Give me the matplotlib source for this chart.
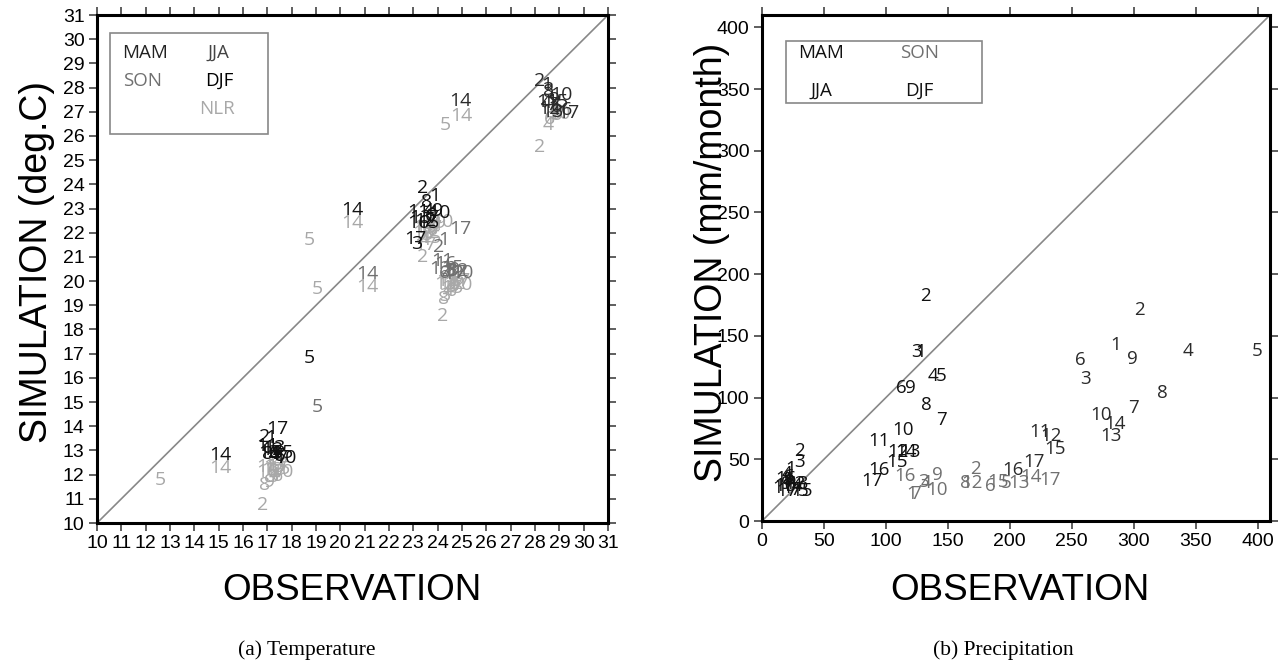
import matplotlib
matplotlib.use("Agg")
import matplotlib.pyplot as plt

# ---------------- Temperature panel data (station id, observation, simulation) ----------------
T_DJF_ID = [1, 2, 3, 4, 6, 7, 8, 9, 10, 11, 12, 13, 14, 15, 16, 17]
T_DJF_OBS = [17.15, 16.9, 17.2, 17.3, 17.5, 17.6, 17.0, 17.4, 17.75, 17.0, 17.2, 17.3, 15.06, 17.6, 17.1, 17.4]
T_DJF_SIM = [13.5, 13.55, 12.9, 12.8, 12.75, 12.7, 12.85, 12.85, 12.7, 13.2, 13.0, 13.1, 12.81, 12.9, 12.9, 13.87]

T_DJF_NLR_ID = [1, 2, 3, 4, 5, 6, 7, 8, 9, 10, 11, 12, 13, 14, 15, 16, 17]
T_DJF_NLR_OBS = [17.1, 16.8, 17.2, 17.3, 12.59, 17.4, 17.5, 16.9, 17.1, 17.6, 17.0, 17.2, 17.3, 15.06, 17.5, 17.0, 17.4]
T_DJF_NLR_SIM = [12.2, 10.74, 11.9, 12.0, 11.78, 11.95, 12.1, 11.57, 11.7, 12.1, 12.3, 12.2, 12.3, 12.26, 12.25, 12.1, 12.35]

T_MAM_ID = [1, 2, 3, 4, 5, 6, 7, 8, 9, 10, 11, 12, 13, 14, 15, 16, 17]
T_MAM_OBS = [23.89, 23.39, 23.15, 23.6, 18.73, 23.7, 23.8, 23.55, 24.0, 24.05, 23.2, 23.5, 23.3, 20.51, 23.6, 23.2, 23.07]
T_MAM_SIM = [23.52, 23.84, 21.55, 22.9, 16.81, 22.7, 22.6, 23.28, 22.9, 22.8, 22.85, 22.5, 22.6, 22.94, 22.4, 22.4, 21.72]

T_MAM_NLR_ID = [1, 2, 3, 4, 5, 6, 7, 8, 9, 10, 11, 12, 13, 14, 15, 16, 17]
T_MAM_NLR_OBS = [24.0, 23.39, 23.55, 23.5, 18.73, 23.8, 23.9, 23.7, 24.1, 24.2, 23.4, 23.6, 23.5, 20.51, 23.7, 23.4, 23.5]
T_MAM_NLR_SIM = [22.3, 21.01, 21.9, 21.7, 21.70, 22.1, 22.2, 22.3, 22.4, 22.45, 22.2, 22.0, 22.2, 22.41, 21.8, 22.0, 21.5]

T_SON_ID = [1, 2, 3, 4, 5, 6, 7, 8, 9, 10, 11, 12, 13, 14, 15, 16, 17]
T_SON_OBS = [24.23, 24.03, 24.5, 24.4, 19.07, 24.3, 24.9, 24.6, 24.7, 25.0, 24.2, 24.8, 24.1, 21.11, 24.6, 24.3, 24.92]
T_SON_SIM = [21.70, 21.40, 20.4, 20.3, 14.78, 20.35, 20.35, 20.4, 20.45, 20.32, 20.85, 20.4, 20.5, 20.29, 20.55, 20.7, 22.14]

T_SON_NLR_ID = [1, 2, 3, 4, 5, 6, 7, 8, 9, 10, 11, 12, 13, 14, 15, 16, 17]
T_SON_NLR_OBS = [24.6, 24.21, 24.3, 24.44, 19.07, 24.55, 24.8, 24.23, 24.7, 24.99, 24.4, 24.7, 24.3, 21.11, 24.6, 24.5, 24.9]
T_SON_NLR_SIM = [19.9, 18.56, 19.4, 19.63, 19.66, 19.6, 19.8, 19.25, 19.8, 19.84, 20.0, 19.9, 19.9, 19.77, 19.7, 19.9, 20.0]

T_JJA_ID = [1, 2, 3, 4, 6, 7, 8, 9, 10, 11, 12, 13, 14, 15, 16, 17]
T_JJA_OBS = [28.5, 28.18, 28.5, 28.48, 28.9, 28.7, 28.55, 28.8, 29.1, 28.5, 28.6, 28.7, 24.92, 28.9, 29.1, 29.36]
T_JJA_SIM = [28.1, 28.28, 27.9, 27.35, 27.2, 27.3, 27.8, 27.5, 27.7, 27.4, 27.1, 27.0, 27.45, 27.4, 27.07, 26.95]

T_JJA_NLR_ID = [1, 2, 3, 4, 5, 6, 8, 10, 14]
T_JJA_NLR_OBS = [28.7, 28.18, 28.8, 28.55, 24.30, 28.6, 28.9, 29.0, 24.96]
T_JJA_NLR_SIM = [26.8, 25.53, 26.9, 26.45, 26.45, 26.7, 26.85, 26.9, 26.83]

T_TICKS = list(range(10, 32))

# ---------------- Precipitation panel data ----------------
P_MAM_ID = [1, 2, 3, 4, 5, 6, 7, 8, 9, 10, 11, 12, 13, 14, 15, 16, 17]
P_MAM_OBS = [128.2, 132.3, 124.7, 138.2, 144.9, 112.6, 144.9, 132.3, 119.9, 114.0, 94.6, 110.0, 119.4, 116.0, 109.1, 94.6, 89.2]
P_MAM_SIM = [136.9, 182.7, 136.9, 117.2, 117.2, 108.1, 82.2, 94.3, 108.1, 74.1, 64.7, 56.0, 56.0, 56.0, 47.9, 41.2, 32.6]

P_JJA_ID = [1, 2, 3, 4, 5, 6, 7, 8, 9, 10, 11, 12, 13, 14, 15, 16, 17]
P_JJA_OBS = [285.5, 304.3, 261.3, 343.8, 400.0, 257.0, 299.5, 323.1, 298.9, 273.9, 224.2, 233.6, 282.0, 284.7, 236.3, 202.7, 219.4]
P_JJA_SIM = [142.3, 170.6, 115.4, 137.4, 137.4, 130.7, 91.9, 103.7, 131.5, 85.7, 72.2, 69.0, 68.7, 78.2, 58.0, 41.2, 47.9]

P_SON_ID = [16, 3, 4, 9, 10, 1, 7, 8, 12, 2, 6, 15, 5, 13, 14, 17]
P_SON_OBS = [115.3, 130.1, 132.3, 141.4, 141.4, 120.5, 123.5, 164.5, 169.5, 172.3, 183.9, 190.6, 197.3, 207.5, 217.5, 232.3]
P_SON_SIM = [36.4, 31.8, 31.0, 37.2, 25.1, 21.8, 21.8, 31.0, 30.5, 41.8, 28.3, 31.8, 30.5, 31.0, 35.3, 33.1]

P_DJF_ID = [2, 3, 1, 4, 6, 8, 9, 10, 11, 12, 13, 14, 15, 16, 17, 7, 5]
P_DJF_OBS = [30, 30, 23, 20, 22, 21, 20, 19, 17, 27, 29, 24, 32, 19, 20, 27, 33]
P_DJF_SIM = [57, 48, 42, 38, 36, 33, 30, 28, 27, 30, 30, 28, 24, 34, 24, 25, 24]

P_TICKS = list(range(0, 401, 50))

# ---------------- styling ----------------
C_BLACK = "#111111"
C_DARK = "#2a2a2a"
C_GRAY = "#707070"
C_LIGHT = "#a8a8a8"
LABEL_FONT = ["Open Sans", "DejaVu Sans"]
AXIS_FONT = ["Liberation Sans", "DejaVu Sans"]

fig = plt.figure(figsize=(12.79, 6.68), dpi=100)

def style_axes(ax, ticks, tick_fs):
    for s in ax.spines.values():
        s.set_linewidth(2.2)
        s.set_color("black")
    ax.set_xticks(ticks)
    ax.set_yticks(ticks)
    ax.tick_params(direction="out", length=6, width=1.1, top=True, right=True,
                   labeltop=False, labelright=False, labelsize=tick_fs, pad=3,
                   color="#333333")
    for lab in ax.get_xticklabels() + ax.get_yticklabels():
        lab.set_fontfamily(AXIS_FONT)

def put_labels(ax, ids, xs, ys, color, fs):
    for i, x, y in zip(ids, xs, ys):
        ax.text(x, y, str(i), color=color, fontsize=fs, ha="center", va="center",
                family=LABEL_FONT)

# ---------------- left panel ----------------
axL = fig.add_axes([97 / 1279, 1 - 523 / 668, (608 - 97) / 1279, (523 - 15) / 668])
axL.set_xlim(10, 31)
axL.set_ylim(10, 31)
axL.plot([10, 31], [10, 31], color="#888888", lw=1.2, zorder=1)
style_axes(axL, T_TICKS, 14)

fs_l = 14
put_labels(axL, T_DJF_NLR_ID, T_DJF_NLR_OBS, T_DJF_NLR_SIM, C_LIGHT, fs_l)
put_labels(axL, T_MAM_NLR_ID, T_MAM_NLR_OBS, T_MAM_NLR_SIM, C_LIGHT, fs_l)
put_labels(axL, T_SON_NLR_ID, T_SON_NLR_OBS, T_SON_NLR_SIM, C_LIGHT, fs_l)
put_labels(axL, T_JJA_NLR_ID, T_JJA_NLR_OBS, T_JJA_NLR_SIM, C_LIGHT, fs_l)
put_labels(axL, T_SON_ID, T_SON_OBS, T_SON_SIM, C_GRAY, fs_l)
put_labels(axL, T_JJA_ID, T_JJA_OBS, T_JJA_SIM, C_DARK, fs_l)
put_labels(axL, T_MAM_ID, T_MAM_OBS, T_MAM_SIM, C_BLACK, fs_l)
put_labels(axL, T_DJF_ID, T_DJF_OBS, T_DJF_SIM, C_BLACK, fs_l)

# legend box (left)
axL.add_patch(plt.Rectangle((0.025, 0.765), 0.31, 0.2, transform=axL.transAxes,
                            fill=False, edgecolor="#888888", lw=1.2))
leg_fs = 13.5
axL.text(0.094, 0.925, "MAM", transform=axL.transAxes, color="#222222", fontsize=leg_fs,
         ha="center", va="center", family=LABEL_FONT)
axL.text(0.238, 0.925, "JJA", transform=axL.transAxes, color="#444444", fontsize=leg_fs,
         ha="center", va="center", family=LABEL_FONT)
axL.text(0.09, 0.87, "SON", transform=axL.transAxes, color=C_GRAY, fontsize=leg_fs,
         ha="center", va="center", family=LABEL_FONT)
axL.text(0.24, 0.87, "DJF", transform=axL.transAxes, color="black", fontsize=leg_fs,
         ha="center", va="center", family=LABEL_FONT)
axL.text(0.235, 0.815, "NLR", transform=axL.transAxes, color=C_LIGHT, fontsize=leg_fs,
         ha="center", va="center", family=LABEL_FONT)

# ---------------- right panel ----------------
axR = fig.add_axes([762 / 1279, 1 - 521 / 668, (1270 - 762) / 1279, (521 - 15) / 668])
axR.set_xlim(0, 410)
axR.set_ylim(0, 410)
axR.plot([0, 410], [0, 410], color="#888888", lw=1.2, zorder=1)
style_axes(axR, P_TICKS, 14)

fs_r = 13.5
put_labels(axR, P_SON_ID, P_SON_OBS, P_SON_SIM, C_GRAY, fs_r)
put_labels(axR, P_JJA_ID, P_JJA_OBS, P_JJA_SIM, C_DARK, fs_r)
put_labels(axR, P_MAM_ID, P_MAM_OBS, P_MAM_SIM, C_BLACK, fs_r)
put_labels(axR, P_DJF_ID, P_DJF_OBS, P_DJF_SIM, C_BLACK, fs_r)

axR.add_patch(plt.Rectangle((0.047, 0.827), 0.386, 0.122, transform=axR.transAxes,
                            fill=False, edgecolor="#888888", lw=1.2))
axR.text(0.116, 0.925, "MAM", transform=axR.transAxes, color="#111111", fontsize=leg_fs,
         ha="center", va="center", family=LABEL_FONT)
axR.text(0.31, 0.925, "SON", transform=axR.transAxes, color=C_GRAY, fontsize=leg_fs,
         ha="center", va="center", family=LABEL_FONT)
axR.text(0.117, 0.85, "JJA", transform=axR.transAxes, color="#111111", fontsize=leg_fs,
         ha="center", va="center", family=LABEL_FONT)
axR.text(0.31, 0.85, "DJF", transform=axR.transAxes, color="#111111", fontsize=leg_fs,
         ha="center", va="center", family=LABEL_FONT)

# ---------------- axis titles and captions ----------------
fig.text(37 / 1279, 1 - 262 / 668, "SIMULATION (deg.C)", rotation=90, ha="center", va="center",
         fontsize=27, family=AXIS_FONT)
fig.text(712 / 1279, 1 - 262 / 668, "SIMULATION (mm/month)", rotation=90, ha="center", va="center",
         fontsize=27, family=AXIS_FONT)
fig.text(352 / 1279, 1 - 590 / 668, "OBSERVATION", ha="center", va="center",
         fontsize=26.5, family=AXIS_FONT)
fig.text(1020 / 1279, 1 - 590 / 668, "OBSERVATION", ha="center", va="center",
         fontsize=26.5, family=AXIS_FONT)
fig.text(307 / 1279, 1 - 650 / 668, "(a) Temperature", ha="center", va="center",
         fontsize=15.5, family=["Liberation Serif", "DejaVu Serif"])
fig.text(1003 / 1279, 1 - 650 / 668, "(b) Precipitation", ha="center", va="center",
         fontsize=15.5, family=["Liberation Serif", "DejaVu Serif"])

fig.savefig("out.png", dpi=100)
